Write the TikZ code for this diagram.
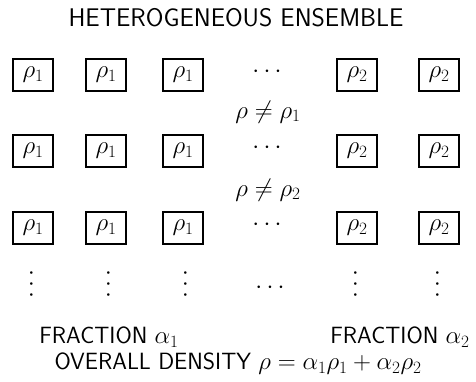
\documentclass[tikz,border=0pt]{standalone}
\usepackage{graphicx}
\newcommand{\myvdots}{\rotatebox{90}{$\cdots$}}
\begin{document}
\begin{tikzpicture}[x=1pt,y=-1pt,
  cell/.style={draw, line width=1.5pt, minimum width=40pt, minimum height=32pt, inner sep=0pt, font=\fontsize{27}{30}\selectfont},
  lbl/.style={font=\sffamily\fontsize{23.5}{27}\selectfont, inner sep=0pt},
  rel/.style={font=\fontsize{24}{28}\selectfont, inner sep=0pt},
  dots/.style={font=\fontsize{27}{30}\selectfont, inner sep=0pt}]
\path[use as bounding box, fill=white] (0,0) rectangle (476,382);
\node[lbl, font=\sffamily\fontsize{25.5}{30}\selectfont] (title) at (236,18) {HETEROGENEOUS ENSEMBLE};
\foreach \r/\y in {1/75, 2/151, 3/228}{
  \node[cell] (a\r) at (33,\y) {$\rho_1$};
  \node[cell] (b\r) at (106,\y) {$\rho_1$};
  \node[cell] (c\r) at (183,\y) {$\rho_1$};
  \node[dots] (d\r) at (267,\y-3) {$\cdots$};
  \node[cell] (e\r) at (357,\y) {$\rho_2$};
  \node[cell] (f\r) at (439,\y) {$\rho_2$};
}
\node[rel] (ne1) at (268,112) {$\rho\neq\rho_1$};
\node[rel] (ne2) at (268,190) {$\rho\neq\rho_2$};
\node[dots] (va) at (32,284) {\myvdots};
\node[dots] (vb) at (109,284) {\myvdots};
\node[dots] (vc) at (186,284) {\myvdots};
\node[dots] (vd) at (270,288) {$\cdots$};
\node[dots] (ve) at (356,284) {\myvdots};
\node[dots] (vf) at (438,284) {\myvdots};
\node[lbl] (fr1) at (109,337) {FRACTION $\alpha_1$};
\node[lbl] (fr2) at (400,337) {FRACTION $\alpha_2$};
\node[lbl] (ov) at (238,364) {OVERALL DENSITY $\rho=\alpha_1\rho_1+\alpha_2\rho_2$};
\end{tikzpicture}
\end{document}
